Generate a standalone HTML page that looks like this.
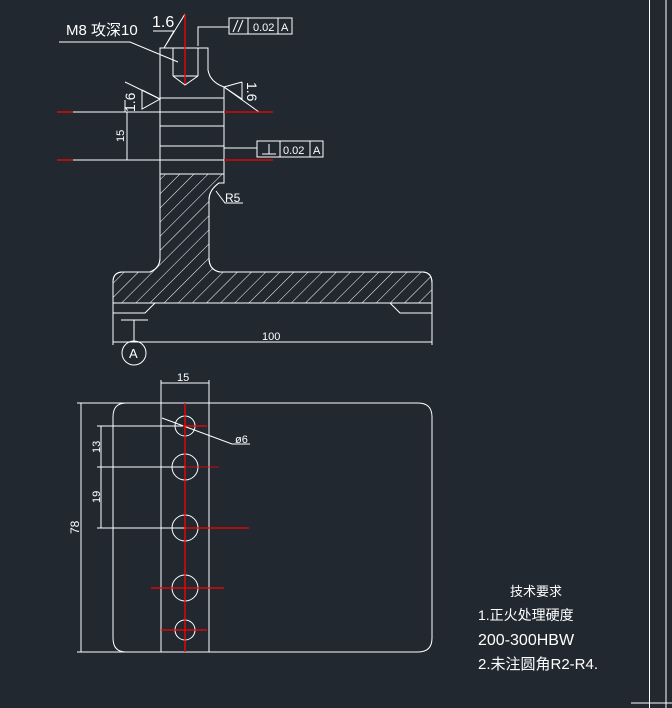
<!DOCTYPE html>
<html><head><meta charset="utf-8"><style>
html,body{margin:0;padding:0;background:#212830;}
svg{display:block}
text{fill:#fff;font-family:"Liberation Sans","Noto Sans CJK SC",sans-serif;}
</style></head><body>
<svg width="672" height="708" viewBox="0 0 672 708" xmlns="http://www.w3.org/2000/svg">
<defs>
<pattern id="h" patternUnits="userSpaceOnUse" width="10" height="10" patternTransform="rotate(45)">
<line x1="0" y1="0" x2="0" y2="10" stroke="#fff" stroke-width="1"/>
</pattern>
</defs>
<rect width="672" height="708" fill="#212830"/>
<g stroke="#fff" stroke-width="1" fill="none">
<line x1="649.5" y1="0" x2="649.5" y2="708"/>
<line x1="666" y1="0" x2="666" y2="708"/>
<line x1="631" y1="703" x2="672" y2="703"/>

<path d="M160,48 L208,48 L208,70 Q210,82 224,87 L224,183 L219,183 Q209,190 209,200 L209,258 Q209,270 220,272 L422,272 Q432,272 432,283 L432,303 L113,303 L113,282 Q113,272 123,272 L150,272 Q160,268 160,258 Z"/>
<path d="M160,174 L224,174 L224,183 L219,183 Q209,190 209,200 L209,258 Q209,270 220,272 L422,272 Q432,272 432,283 L432,303 L113,303 L113,282 Q113,272 123,272 L150,272 Q160,268 160,258 Z" fill="url(#h)"/>
<line x1="160" y1="48" x2="160" y2="260"/>
<line x1="173" y1="48" x2="173" y2="76"/><line x1="198" y1="48" x2="198" y2="76"/>
<polyline points="173,76 185,85 198,76"/><line x1="173" y1="76" x2="198" y2="76"/>
<line x1="160" y1="98" x2="224" y2="98"/>
<line x1="73" y1="112" x2="224" y2="112"/>
<line x1="160" y1="126" x2="224" y2="126"/>
<line x1="160" y1="146" x2="224" y2="146"/>
<line x1="73" y1="160" x2="224" y2="160"/>
<line x1="160" y1="174" x2="224" y2="174"/>
<polyline points="113,303 113,345"/><polyline points="432,303 432,345"/>
<polyline points="113,313 145,313 155,303"/>
<polyline points="390,303 400,313 432,313"/>
<line x1="113" y1="342" x2="432" y2="342"/>
<line x1="121" y1="320" x2="148" y2="320"/><line x1="134" y1="320" x2="134" y2="341"/>
<circle cx="134" cy="353" r="12"/>
<line x1="127" y1="112" x2="127" y2="160"/>
<polyline points="59,42 130,42 178,62"/>
<polyline points="153,31 174,31 164,48 185,14"/>
<polyline points="142,90 160,99 142,109 142,90"/>
<line x1="125" y1="82" x2="160" y2="99"/>
<line x1="125" y1="112" x2="125" y2="100"/>
<polyline points="242,82 224,87 242,99 242,82"/>
<line x1="224" y1="87" x2="259" y2="112"/>
<rect x="229" y="18" width="63" height="16"/><line x1="248" y1="18" x2="248" y2="34"/><line x1="278" y1="18" x2="278" y2="34"/>
<line x1="233" y1="32" x2="238" y2="20"/><line x1="238" y1="32" x2="243" y2="20"/>
<polyline points="229,27 198,27 198,46"/>
<rect x="257" y="141" width="66" height="16"/><line x1="280" y1="141" x2="280" y2="157"/><line x1="310" y1="141" x2="310" y2="157"/>
<line x1="262" y1="154" x2="276" y2="154"/><line x1="269" y1="144" x2="269" y2="154"/>
<line x1="224" y1="148" x2="257" y2="148"/>
<polyline points="216,191 225,203 243,203"/>

<path d="M126,403 L418,403 Q432,403 432,417 L432,638 Q432,652 418,652 L126,652 Q113,652 113,638 L113,417 Q113,403 126,403 Z"/>
<line x1="77" y1="403" x2="126" y2="403"/><line x1="77" y1="652" x2="126" y2="652"/>
<line x1="81" y1="403" x2="81" y2="652"/>
<line x1="161" y1="380" x2="161" y2="652"/><line x1="209" y1="380" x2="209" y2="652"/>
<line x1="161" y1="383" x2="209" y2="383"/>
<circle cx="185" cy="426" r="10"/><circle cx="185" cy="467" r="13"/><circle cx="185" cy="528" r="13"/><circle cx="185" cy="588" r="13"/><circle cx="185" cy="630" r="10"/>
<line x1="97" y1="426" x2="185" y2="426"/><line x1="97" y1="467" x2="185" y2="467"/><line x1="97" y1="528" x2="185" y2="528"/>
<line x1="101" y1="426" x2="101" y2="528"/>
<polyline points="162,418 232,444 250,444"/>
</g>
<g stroke="#f00" stroke-width="1.3">
<line x1="185" y1="14" x2="185" y2="84"/>
<line x1="57" y1="112" x2="73" y2="112"/><line x1="57" y1="160" x2="73" y2="160"/>
<line x1="224" y1="112" x2="273" y2="112"/><line x1="224" y1="160" x2="273" y2="160"/>
<line x1="185" y1="403" x2="185" y2="652"/>
<line x1="183" y1="426" x2="207" y2="426"/>
<line x1="185" y1="467" x2="219" y2="467" stroke-width="0.8"/>
<line x1="185" y1="528" x2="249" y2="528"/>
<line x1="151" y1="588" x2="224" y2="588"/>
<line x1="161" y1="630" x2="207" y2="630"/>
</g>
<g font-size="12">
<text x="66" y="35" font-size="15">M8 攻深10</text>
<text x="152" y="27" font-size="16">1.6</text>
<text x="0" y="0" font-size="14" transform="translate(135,112) rotate(-90)">1.6</text>
<text x="0" y="0" font-size="14" transform="translate(247,82) rotate(90)">1.6</text>
<text x="253" y="31" font-size="11">0.02</text><text x="281" y="31" font-size="11">A</text>
<text x="283" y="154" font-size="11">0.02</text><text x="313" y="154" font-size="11">A</text>
<text x="225" y="202" font-size="12">R5</text>
<text x="0" y="0" font-size="11" transform="translate(124,142) rotate(-90)">15</text>
<text x="262" y="340" font-size="11">100</text>
<text x="129" y="358" font-size="13">A</text>
<text x="177" y="381" font-size="11">15</text>
<text x="235" y="443" font-size="11">ø6</text>
<text x="0" y="0" font-size="11" transform="translate(100,453) rotate(-90)">13</text>
<text x="0" y="0" font-size="11" transform="translate(100,503) rotate(-90)">19</text>
<text x="0" y="0" font-size="12" transform="translate(79,534) rotate(-90)">78</text>
<text x="510" y="596" font-size="13">技术要求</text>
<text x="478" y="620" font-size="14">1.正火处理硬度</text>
<text x="478" y="645" font-size="16">200-300HBW</text>
<text x="478" y="669" font-size="15">2.未注圆角R2-R4.</text>
</g>
</svg>
</body></html>
